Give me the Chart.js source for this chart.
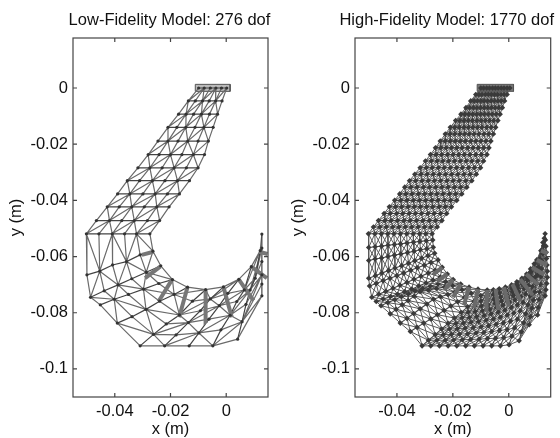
<!DOCTYPE html>
<html lang="en">
<head>
    <meta charset="UTF-8">
    <title>Low and High Fidelity Models</title>
    <script src="https://cdnjs.cloudflare.com/ajax/libs/Chart.js/4.4.1/chart.umd.min.js"></script>
    <style>
        html, body { margin: 0; background: #fff; overflow: hidden; height: 100%; }
        canvas { position: absolute; top: 0; }
        #lowChart { left: 0; }
        #highChart { left: 280px; }
    </style>
</head>
<body>
    <canvas id="lowChart" width="280" height="438"></canvas>
    <canvas id="highChart" width="280" height="438"></canvas>

    <script>
        const xTicks = [-0.04, -0.02, 0];
        const xTickLabels = ['-0.04', '-0.02', '0'];
        const yTicks = [0, -0.02, -0.04, -0.06, -0.08, -0.1];
        const yTickLabels = ['0', '-0.02', '-0.04', '-0.06', '-0.08', '-0.1'];
        const xRange = [-0.055, 0.015];
        const yRange = [-0.11, 0.0178];

        const titles = ['Low-Fidelity Model: 276 dof', 'High-Fidelity Model: 1770 dof'];

        // clamp boxes at the top of each mesh
        const lowBoxX = [-.0111, .0014, .0014, -.0111, -.0111];
        const highBoxX = [-.0113, .0017, .0017, -.0113, -.0113];
        const boxY = [.0013, .0013, -.0012, -.0012, .0013];

        // low fidelity nodes, six per row
        const lowX = [
            -.0099, -.0079, -.0057, -.0037, -.0017, .0002,
            -.0136, -.0111, -.0085, -.0061, -.0038, -.0015,
            -.0171, -.0144, -.0117, -.0089, -.0060, -.0031,
            -.0209, -.0177, -.0145, -.0112, -.0080, -.0047,
            -.0245, -.0209, -.0173, -.0138, -.0101, -.0064,
            -.0280, -.0241, -.0200, -.0159, -.0118, -.0078,
            -.0317, -.0274, -.0230, -.0187, -.0143, -.0101,
            -.0355, -.0311, -.0265, -.0220, -.0175, -.0132,
            -.0390, -.0346, -.0299, -.0255, -.0211, -.0168,
            -.0427, -.0384, -.0339, -.0294, -.0249, -.0205,
            -.0466, -.0419, -.0375, -.0330, -.0283, -.0239,
            -.0502, -.0457, -.0409, -.0365, -.0322, -.0274,
            -.0500, -.0454, -.0408, -.0358, -.0309, -.0263,
            -.0487, -.0438, -.0388, -.0339, -.0287, -.0235,
            -.0452, -.0402, -.0351, -.0297, -.0242, -.0193,
            -.0391, -.0338, -.0288, -.0239, -.0187, -.0139,
            -.0309, -.0261, -.0215, -.0168, -.0121, -.0074,
            -.0221, -.0180, -.0136, -.0093, -.0057, -.0010,
            -.0133, -.0098, -.0062, -.0025, .0006, .0045,
            -.0048, -.0019, .0014, .0038, .0065, .0090,
            .0041, .0057, .0071, .0086, .0104, .0122,
            .0128, .0128, .0128, .0128, .0128, .0128
        ];
        const lowY = [
            0, 0, 0, 0, 0, 0,
            -.0046, -.0046, -.0046, -.0046, -.0046, -.0046,
            -.0093, -.0093, -.0093, -.0093, -.0093, -.0093,
            -.0140, -.0140, -.0140, -.0140, -.0140, -.0140,
            -.0189, -.0189, -.0189, -.0189, -.0189, -.0189,
            -.0237, -.0237, -.0237, -.0237, -.0237, -.0237,
            -.0284, -.0284, -.0284, -.0284, -.0284, -.0284,
            -.0330, -.0330, -.0330, -.0330, -.0330, -.0330,
            -.0377, -.0377, -.0377, -.0377, -.0377, -.0377,
            -.0423, -.0423, -.0423, -.0423, -.0423, -.0423,
            -.0472, -.0472, -.0472, -.0472, -.0472, -.0472,
            -.0519, -.0519, -.0519, -.0519, -.0519, -.0519,
            -.0665, -.0652, -.0630, -.0618, -.0594, -.0581,
            -.0745, -.0722, -.0701, -.0679, -.0656, -.0633,
            -.0772, -.0752, -.0735, -.0716, -.0696, -.0682,
            -.0837, -.0814, -.0788, -.0759, -.0735, -.0709,
            -.0918, -.0877, -.0840, -.0808, -.0759, -.0718,
            -.0918, -.0879, -.0835, -.0793, -.0751, -.0708,
            -.0918, -.0872, -.0823, -.0775, -.0731, -.0681,
            -.0918, -.0861, -.0809, -.0760, -.0719, -.0636,
            -.0894, -.0832, -.0770, -.0719, -.0677, -.0579,
            -.0740, -.0698, -.0665, -.0618, -.0570, -.0520
        ];

        // thick grey stubs on the low fidelity mesh, x1, x2 and y1, y2 per stub
        const lowStubX = [
            -.0303, -.0261, -.0291, -.0237, -.0243, -.0195, -.0169, -.0139, -.0073, -.0074,
            .0020, -.0010, .0098, .0045, .0146, .0090, .0148, .0118
        ];
        const lowStubY = [
            -.0594, -.0583, -.0677, -.0636, -.0760, -.0683, -.0816, -.0709, -.0837, -.0718,
            -.0816, -.0708, -.0757, -.0681, -.0677, -.0636, -.0591, -.0583
        ];

        // high fidelity nodes, eleven per row
        const highX = [
            -.0100, -.0090, -.0079, -.0069, -.0058, -.0048, -.0038, -.0027, -.0017, -.0006, .0004,
            -.0118, -.0107, -.0096, -.0084, -.0073, -.0062, -.0051, -.0040, -.0028, -.0017, -.0006,
            -.0136, -.0124, -.0112, -.0100, -.0088, -.0076, -.0063, -.0051, -.0039, -.0027, -.0015,
            -.0153, -.0140, -.0127, -.0114, -.0101, -.0088, -.0075, -.0062, -.0049, -.0036, -.0023,
            -.0171, -.0157, -.0143, -.0129, -.0115, -.0101, -.0087, -.0073, -.0059, -.0045, -.0031,
            -.0190, -.0175, -.0160, -.0145, -.0130, -.0114, -.0099, -.0084, -.0069, -.0054, -.0039,
            -.0209, -.0193, -.0177, -.0160, -.0144, -.0128, -.0112, -.0096, -.0079, -.0063, -.0047,
            -.0227, -.0210, -.0193, -.0175, -.0158, -.0141, -.0124, -.0107, -.0089, -.0072, -.0055,
            -.0245, -.0227, -.0209, -.0191, -.0173, -.0155, -.0136, -.0118, -.0100, -.0082, -.0064,
            -.0262, -.0243, -.0224, -.0205, -.0186, -.0167, -.0147, -.0128, -.0109, -.0090, -.0071,
            -.0280, -.0260, -.0240, -.0219, -.0199, -.0179, -.0159, -.0139, -.0118, -.0098, -.0078,
            -.0298, -.0277, -.0256, -.0236, -.0215, -.0194, -.0173, -.0152, -.0132, -.0111, -.0090,
            -.0317, -.0295, -.0274, -.0252, -.0231, -.0209, -.0187, -.0166, -.0144, -.0123, -.0101,
            -.0336, -.0314, -.0292, -.0270, -.0248, -.0226, -.0204, -.0182, -.0160, -.0138, -.0116,
            -.0355, -.0333, -.0310, -.0288, -.0266, -.0244, -.0221, -.0199, -.0177, -.0154, -.0132,
            -.0372, -.0350, -.0328, -.0305, -.0283, -.0261, -.0239, -.0217, -.0194, -.0172, -.0150,
            -.0390, -.0368, -.0346, -.0323, -.0301, -.0279, -.0257, -.0235, -.0212, -.0190, -.0168,
            -.0408, -.0386, -.0364, -.0341, -.0319, -.0297, -.0275, -.0253, -.0230, -.0208, -.0186,
            -.0427, -.0405, -.0383, -.0360, -.0338, -.0316, -.0294, -.0272, -.0249, -.0227, -.0205,
            -.0446, -.0424, -.0401, -.0379, -.0356, -.0334, -.0312, -.0289, -.0267, -.0244, -.0222,
            -.0466, -.0443, -.0421, -.0398, -.0375, -.0353, -.0330, -.0307, -.0284, -.0262, -.0239,
            -.0484, -.0461, -.0438, -.0415, -.0393, -.0370, -.0347, -.0324, -.0301, -.0279, -.0256,
            -.0502, -.0479, -.0456, -.0433, -.0411, -.0388, -.0365, -.0342, -.0319, -.0297, -.0274,
            -.0501, -.0478, -.0455, -.0432, -.0409, -.0387, -.0364, -.0341, -.0318, -.0295, -.0272,
            -.0501, -.0478, -.0455, -.0432, -.0409, -.0386, -.0362, -.0339, -.0316, -.0293, -.0270,
            -.0501, -.0477, -.0454, -.0430, -.0407, -.0383, -.0359, -.0336, -.0312, -.0289, -.0265,
            -.0498, -.0474, -.0449, -.0425, -.0400, -.0376, -.0351, -.0327, -.0302, -.0278, -.0253,
            -.0490, -.0465, -.0440, -.0414, -.0389, -.0364, -.0339, -.0314, -.0288, -.0263, -.0238,
            -.0474, -.0449, -.0423, -.0398, -.0372, -.0347, -.0322, -.0296, -.0271, -.0245, -.0220,
            -.0457, -.0433, -.0408, -.0384, -.0359, -.0335, -.0308, -.0281, -.0253, -.0226, -.0199,
            -.0424, -.0403, -.0381, -.0360, -.0338, -.0317, -.0288, -.0259, -.0230, -.0201, -.0172,
            -.0388, -.0364, -.0340, -.0317, -.0293, -.0269, -.0244, -.0218, -.0193, -.0167, -.0142,
            -.0352, -.0328, -.0304, -.0279, -.0255, -.0231, -.0207, -.0183, -.0158, -.0134, -.0110,
            -.0310, -.0287, -.0263, -.0240, -.0217, -.0194, -.0170, -.0147, -.0124, -.0100, -.0077,
            -.0279, -.0257, -.0234, -.0212, -.0189, -.0167, -.0145, -.0122, -.0100, -.0077, -.0055,
            -.0248, -.0227, -.0205, -.0184, -.0162, -.0141, -.0120, -.0098, -.0077, -.0055, -.0034,
            -.0217, -.0197, -.0176, -.0156, -.0135, -.0115, -.0094, -.0074, -.0053, -.0033, -.0012,
            -.0186, -.0166, -.0147, -.0127, -.0108, -.0088, -.0068, -.0049, -.0029, -.0010, .0010,
            -.0154, -.0136, -.0117, -.0099, -.0081, -.0063, -.0044, -.0026, -.0008, .0011, .0029,
            -.0123, -.0106, -.0089, -.0072, -.0055, -.0038, -.0021, -.0004, .0013, .0030, .0047,
            -.0092, -.0076, -.0061, -.0045, -.0030, -.0014, .0002, .0017, .0033, .0048, .0064,
            -.0061, -.0047, -.0033, -.0019, -.0005, .0009, .0022, .0036, .0050, .0064, .0078,
            -.0030, -.0018, -.0006, .0006, .0018, .0031, .0043, .0055, .0067, .0079, .0091,
            .0001, .0011, .0021, .0031, .0041, .0051, .0060, .0070, .0080, .0090, .0100,
            .0037, .0045, .0053, .0060, .0068, .0076, .0084, .0092, .0099, .0107, .0115,
            .0073, .0078, .0083, .0088, .0093, .0098, .0102, .0107, .0112, .0117, .0122,
            .0103, .0105, .0108, .0110, .0113, .0115, .0117, .0120, .0122, .0125, .0127,
            .0130, .0133, .0136, .0138, .0138, .0137, .0135, .0134, .0133, .0131, .0130
        ];
        // rows of the straight arm share one y
        const highArmY = [
            0, -.0023, -.0046, -.0070, -.0093, -.0116, -.0140, -.0164, -.0189, -.0213, -.0237, -.0260,
            -.0284, -.0307, -.0330, -.0353, -.0377, -.0400, -.0423, -.0447, -.0472, -.0495, -.0519
        ];
        const highCurveY = [
            -.0568, -.0565, -.0563, -.0560, -.0557, -.0555, -.0552, -.0549, -.0546, -.0544, -.0541,
            -.0614, -.0609, -.0605, -.0600, -.0595, -.0591, -.0586, -.0581, -.0576, -.0572, -.0567,
            -.0677, -.0668, -.0659, -.0650, -.0641, -.0633, -.0624, -.0615, -.0606, -.0597, -.0588,
            -.0705, -.0696, -.0686, -.0677, -.0668, -.0659, -.0649, -.0640, -.0631, -.0621, -.0612,
            -.0745, -.0734, -.0724, -.0713, -.0702, -.0692, -.0681, -.0670, -.0659, -.0649, -.0638,
            -.0760, -.0751, -.0742, -.0734, -.0725, -.0716, -.0705, -.0694, -.0684, -.0673, -.0662,
            -.0775, -.0764, -.0754, -.0743, -.0733, -.0722, -.0714, -.0706, -.0698, -.0690, -.0682,
            -.0804, -.0788, -.0772, -.0757, -.0741, -.0725, -.0720, -.0714, -.0709, -.0703, -.0698,
            -.0837, -.0820, -.0803, -.0786, -.0769, -.0752, -.0743, -.0735, -.0726, -.0718, -.0709,
            -.0867, -.0852, -.0837, -.0822, -.0807, -.0792, -.0776, -.0761, -.0746, -.0731, -.0716,
            -.0918, -.0898, -.0878, -.0858, -.0838, -.0819, -.0799, -.0779, -.0759, -.0739, -.0719,
            -.0918, -.0898, -.0878, -.0858, -.0838, -.0818, -.0798, -.0778, -.0758, -.0738, -.0718,
            -.0918, -.0898, -.0877, -.0857, -.0837, -.0817, -.0796, -.0776, -.0756, -.0735, -.0715,
            -.0918, -.0897, -.0876, -.0855, -.0834, -.0814, -.0793, -.0772, -.0751, -.0730, -.0709,
            -.0918, -.0896, -.0875, -.0853, -.0831, -.0810, -.0788, -.0766, -.0744, -.0723, -.0701,
            -.0918, -.0895, -.0872, -.0850, -.0827, -.0804, -.0781, -.0758, -.0736, -.0713, -.0690,
            -.0918, -.0894, -.0870, -.0846, -.0822, -.0798, -.0773, -.0749, -.0725, -.0701, -.0677,
            -.0918, -.0892, -.0867, -.0841, -.0816, -.0790, -.0764, -.0739, -.0713, -.0688, -.0662,
            -.0918, -.0891, -.0863, -.0836, -.0808, -.0781, -.0754, -.0726, -.0699, -.0671, -.0644,
            -.0918, -.0889, -.0860, -.0830, -.0801, -.0772, -.0743, -.0714, -.0684, -.0655, -.0626,
            -.0914, -.0884, -.0854, -.0823, -.0793, -.0763, -.0733, -.0703, -.0672, -.0642, -.0612,
            -.0900, -.0868, -.0836, -.0804, -.0772, -.0740, -.0707, -.0675, -.0643, -.0611, -.0579,
            -.0843, -.0814, -.0784, -.0755, -.0726, -.0697, -.0667, -.0638, -.0609, -.0579, -.0550,
            -.0808, -.0781, -.0753, -.0726, -.0699, -.0672, -.0644, -.0617, -.0590, -.0562, -.0535,
            -.0740, -.0718, -.0696, -.0674, -.0652, -.0630, -.0607, -.0585, -.0563, -.0541, -.0519
        ];

        const highStubX = [
            -.0238, -.0271, -.0220, -.0257, -.0199, -.0230, -.0172, -.0199, -.0142, -.0160,
            -.0110, -.0125, -.0077, -.0080, -.0047, -.0038, -.0017, .0001, .0013, .0043,
            .0041, .0085, .0062, .0106, .0083, .0127, .0100, .0137, .0115, .0139
        ];
        const highStubY = [
            -.0638, -.0665, -.0662, -.0689, -.0682, -.0719, -.0698, -.0745, -.0709, -.0772,
            -.0716, -.0784, -.0719, -.0796, -.0716, -.0790, -.0709, -.0778, -.0698, -.0760,
            -.0681, -.0737, -.0662, -.0701, -.0638, -.0665, -.0612, -.0630, -.0579, -.0589
        ];

        const GAP = { x: NaN, y: NaN };

        function getNodes(xs, ys) {
            return xs.map((x, i) => ({ x: x, y: ys[i] }));
        }

        // row lines across the mesh
        function rowLines(nodes, perRow) {
            const out = [];
            nodes.forEach((n, i) => {
                out.push(n);
                if (i % perRow === perRow - 1) out.push(GAP);
            });
            return out;
        }

        // lines between rows, a triangle mesh with alternating diagonals
        function crossLines(nodes, perRow, bothDiagonals) {
            const out = [];
            const rows = nodes.length / perRow;
            for (let r = 0; r < rows - 1; r++) {
                for (let c = 0; c < perRow; c++) {
                    const a = nodes[r * perRow + c];
                    out.push(a, nodes[(r + 1) * perRow + c], GAP);
                    if (c < perRow - 1) {
                        if ((r + c) % 2 || bothDiagonals) {
                            out.push(a, nodes[(r + 1) * perRow + c + 1], GAP);
                        }
                        if (!((r + c) % 2) || bothDiagonals) {
                            out.push(nodes[r * perRow + c + 1], nodes[(r + 1) * perRow + c], GAP);
                        }
                    }
                }
            }
            return out;
        }

        function stubLines(xs, ys) {
            const out = [];
            for (let i = 0; i < xs.length; i += 2) {
                out.push({ x: xs[i], y: ys[i] }, { x: xs[i + 1], y: ys[i + 1] }, GAP);
            }
            return out;
        }

        function lineSet(data, color, width, order) {
            return {
                data: data,
                showLine: true,
                borderColor: color,
                borderWidth: width,
                pointRadius: 0,
                tension: 0,
                spanGaps: false,
                order: order
            };
        }

        function boxSet(data, fillColor) {
            const set = lineSet(data, '#555', 1, 6);
            set.fill = 'shape';
            set.backgroundColor = fillColor;
            return set;
        }

        // MATLAB style box with the ticks pointing inward on all four sides
        const boxPlugin = {
            id: 'boxPlugin',
            afterLayout(chart) {
                // the titles sit a little left of the plot centre
                const centre = chart.options.plugins.boxPlugin.titleCentre;
                chart.titleBlock.left = centre - 125;
                chart.titleBlock.right = centre + 125;
            },
            afterDatasetsDraw(chart) {
                const { ctx, chartArea: a, scales } = chart;
                ctx.save();
                ctx.strokeStyle = '#444';
                ctx.lineWidth = 1.2;
                ctx.strokeRect(a.left, a.top, a.right - a.left, a.bottom - a.top);
                ctx.beginPath();
                xTicks.forEach(v => {
                    const px = scales.x.getPixelForValue(v);
                    ctx.moveTo(px, a.bottom); ctx.lineTo(px, a.bottom - 4);
                    ctx.moveTo(px, a.top); ctx.lineTo(px, a.top + 4);
                });
                yTicks.forEach(v => {
                    const py = scales.y.getPixelForValue(v);
                    ctx.moveTo(a.left, py); ctx.lineTo(a.left + 4, py);
                    ctx.moveTo(a.right, py); ctx.lineTo(a.right - 4, py);
                });
                ctx.stroke();
                ctx.restore();
            }
        };

        function createChart(id, title, datasets, axisWidth, rightPad, titleCentre, yTitlePad) {
            const family = '"Liberation Sans", Arial, sans-serif';
            const font = { family: family, size: 16.5 };
            return new Chart(document.getElementById(id), {
                type: 'scatter',
                data: { datasets: datasets },
                options: {
                    responsive: false,
                    animation: false,
                    layout: { padding: { right: rightPad, top: 0 } },
                    plugins: {
                        boxPlugin: { titleCentre: titleCentre },
                        legend: { display: false },
                        tooltip: { enabled: false },
                        title: {
                            display: true,
                            text: title,
                            color: '#111',
                            font: { family: family, size: 16.5, weight: 'normal', lineHeight: 1 },
                            padding: { top: 12, bottom: 9.5 }
                        }
                    },
                    scales: {
                        x: {
                            type: 'linear',
                            min: xRange[0],
                            max: xRange[1],
                            grid: { display: false, tickLength: 4 },
                            border: { display: false },
                            afterFit: s => { s.height = 41; },
                            afterBuildTicks: s => { s.ticks = xTicks.map(v => ({ value: v })); },
                            ticks: {
                                color: '#111',
                                font: font,
                                padding: 1,
                                maxRotation: 0,
                                autoSkip: false,
                                callback: (v, i) => xTickLabels[i]
                            },
                            title: {
                                display: true,
                                text: 'x (m)',
                                color: '#111',
                                font: { family: family, size: 16.5, lineHeight: 1 },
                                padding: 0
                            }
                        },
                        y: {
                            type: 'linear',
                            min: yRange[0],
                            max: yRange[1],
                            grid: { display: false, tickLength: 3 },
                            border: { display: false },
                            afterFit: s => { s.width = axisWidth; },
                            afterBuildTicks: s => { s.ticks = yTicks.map(v => ({ value: v })); },
                            ticks: {
                                color: '#111',
                                font: font,
                                padding: 2,
                                autoSkip: false,
                                callback: (v, i) => yTickLabels[i]
                            },
                            title: {
                                display: true,
                                text: 'y (m)',
                                color: '#111',
                                font: { family: family, size: 16.5, lineHeight: 1 },
                                padding: { top: yTitlePad, bottom: 0 }
                            }
                        }
                    }
                },
                plugins: [boxPlugin]
            });
        }

        const lowNodes = getNodes(lowX, lowY);
        createChart('lowChart', titles[0], [
            boxSet(getNodes(lowBoxX, boxY), '#bbb'),
            lineSet(crossLines(lowNodes, 6, false), '#6a6a6a', 1.2, 4),
            lineSet(rowLines(lowNodes, 6), '#444', 1.2, 3),
            lineSet(stubLines(lowStubX, lowStubY), '#777', 4, 2),
            {
                data: lowNodes,
                pointRadius: 1.6,
                pointStyle: 'circle',
                backgroundColor: '#333',
                borderWidth: 0,
                order: 1
            }
        ], 73, 12, 169.5, 8);

        const highY = highArmY.flatMap(y => new Array(11).fill(y)).concat(highCurveY);
        const highNodes = getNodes(highX, highY);
        createChart('highChart', titles[1], [
            boxSet(getNodes(highBoxX, boxY), '#777'),
            lineSet(crossLines(highNodes, 11, true), '#5a5a5a', 1, 4),
            lineSet(rowLines(highNodes, 11), '#444', 1.1, 3),
            lineSet(stubLines(highStubX, highStubY), '#6a6a6a', 4, 0),
            {
                data: highNodes,
                pointRadius: 2.8,
                pointStyle: 'rectRot',
                backgroundColor: '#3a3a3a',
                borderWidth: 0,
                order: 1
            }
        ], 75, 9.3, 166.7, 10);
    </script>
</body>
</html>
